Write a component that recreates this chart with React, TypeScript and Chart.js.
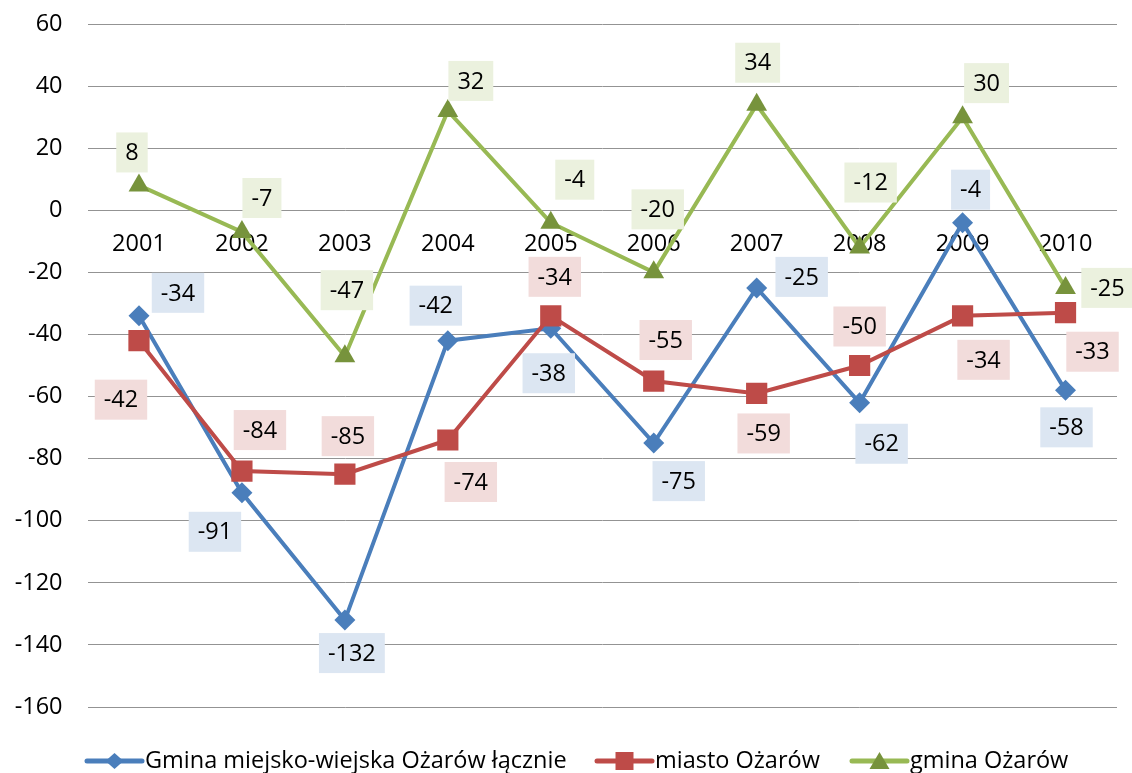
import React, { useEffect, useRef } from "react";
import { Chart, registerables } from "chart.js";

Chart.register(...registerables);

const years = ["2001", "2002", "2003", "2004", "2005", "2006", "2007", "2008", "2009", "2010"];
const seriesNames = ["Gmina miejsko-wiejska Ożarów łącznie", "miasto Ożarów", "gmina Ożarów"];
const totalValues = [-34, -91, -132, -42, -38, -75, -25, -62, -4, -58];
const townValues = [-42, -84, -85, -74, -34, -55, -59, -50, -34, -33];
const ruralValues = [8, -7, -47, 32, -4, -20, 34, -12, 30, -25];
const yTicks = { min: -160, max: 60, step: 20 };

// label box offsets from each point (styling)
const totalLabelOffsets = [[39, -23], [-27, 39], [7, 33], [-12, -35], [-2, 45], [25, 38], [45, -11], [22, 41], [8, -33], [1, 37]];
const townLabelOffsets = [[-18, 59], [18, -41], [3, -38], [23, 42], [4, -39], [12, -41], [7, 40], [0, -39], [21, 44], [27, 39]];
const ruralLabelOffsets = [[-7, -33], [20, -34], [2, -66], [23, -30], [24, -43], [4, -63], [1, -42], [11, -65], [24, -34], [42, 0]];

const FONT = "'Open Sans', sans-serif";
const FONT_SIZE = 23.5;

const styles = [
  { line: "#4A7EBB", marker: "#4A7EBB", labelBg: "#DCE6F2", pointStyle: "rectRot", radius: 10.5, offsets: totalLabelOffsets },
  { line: "#BE4B48", marker: "#BE4B48", labelBg: "#F2DCDB", pointStyle: "rect", radius: 15, offsets: townLabelOffsets },
  { line: "#98B954", marker: "#77933C", labelBg: "#EBF1DE", pointStyle: "triangle", radius: 12, offsets: ruralLabelOffsets },
];

const legendLineStarts = [87, 597, 852];

const labelPlugin = {
  id: "valueLabels",
  afterDatasetsDraw(chart: any) {
    const ctx = chart.ctx;
    ctx.save();
    ctx.font = `${FONT_SIZE}px ${FONT}`;
    ctx.textAlign = "center";
    ctx.textBaseline = "middle";
    chart.data.datasets.forEach((ds: any, di: number) => {
      const meta = chart.getDatasetMeta(di);
      const st = styles[di];
      meta.data.forEach((el: any, i: number) => {
        const txt = String(ds.data[i]);
        const [dx, dy] = st.offsets[i];
        const cx = el.x + dx;
        const cy = el.y + dy;
        const w = ctx.measureText(txt).width + 18;
        const h = 40;
        ctx.fillStyle = st.labelBg;
        ctx.fillRect(cx - w / 2, cy - h / 2, w, h);
        ctx.fillStyle = "#000";
        ctx.fillText(txt, cx, cy + 1);
      });
    });
    ctx.restore();
  },
  afterDraw(chart: any) {
    const ctx = chart.ctx;
    ctx.save();
    const y = 761;
    ctx.font = `${FONT_SIZE}px ${FONT}`;
    ctx.textBaseline = "middle";
    ctx.textAlign = "left";
    chart.data.datasets.forEach((ds: any, di: number) => {
      const st = styles[di];
      const x0 = legendLineStarts[di];
      const x1 = x0 + 55;
      ctx.strokeStyle = st.line;
      ctx.lineWidth = 5;
      ctx.lineCap = "round";
      ctx.beginPath();
      ctx.moveTo(x0, y);
      ctx.lineTo(x1, y);
      ctx.stroke();
      const cx = (x0 + x1) / 2;
      ctx.fillStyle = st.marker;
      ctx.beginPath();
      if (st.pointStyle === "rectRot") {
        ctx.moveTo(cx, y - 8);
        ctx.lineTo(cx + 9, y);
        ctx.lineTo(cx, y + 8);
        ctx.lineTo(cx - 9, y);
      } else if (st.pointStyle === "rect") {
        ctx.rect(cx - 9, y - 9, 18, 18);
      } else {
        ctx.moveTo(cx, y - 9);
        ctx.lineTo(cx + 10, y + 8);
        ctx.lineTo(cx - 10, y + 8);
      }
      ctx.closePath();
      ctx.fill();
      ctx.fillStyle = "#000";
      ctx.fillText(ds.label, x1 + 3, y);
    });
    ctx.restore();
  },
};

export default function App() {
  const ref = useRef<HTMLCanvasElement>(null);
  useEffect(() => {
    document.body.style.margin = "0";
    const allValues = [totalValues, townValues, ruralValues];
    const chart = new Chart(ref.current!, {
      type: "line",
      data: {
        labels: years,
        datasets: allValues.map((vals, i) => ({
          label: seriesNames[i],
          data: vals,
          borderColor: styles[i].line,
          backgroundColor: styles[i].marker,
          borderWidth: 4,
          pointStyle: styles[i].pointStyle as any,
          pointRadius: styles[i].radius,
          pointBackgroundColor: styles[i].marker,
          pointBorderColor: styles[i].marker,
          pointBorderWidth: 0,
          tension: 0,
          fill: false,
          order: 2 - i,
        })),
      },
      options: {
        responsive: false,
        animation: false,
        layout: { padding: { left: 0, top: 24, right: 12, bottom: 66 } },
        plugins: { legend: { display: false }, tooltip: { enabled: false } },
        scales: {
          x: {
            type: "category",
            position: { y: 0 } as any,
            offset: true,
            grid: { display: false, drawTicks: false },
            border: { display: false },
            ticks: { color: "#000", font: { family: FONT, size: FONT_SIZE }, padding: 20, maxRotation: 0, autoSkip: false },
          },
          y: {
            min: yTicks.min,
            max: yTicks.max,
            afterFit: (s: any) => { s.width = 87.5; s.paddingTop = 0; s.paddingBottom = 0; },
            grid: { color: "#939393", lineWidth: 1, drawTicks: false },
            border: { display: false },
            ticks: { stepSize: yTicks.step, color: "#000", font: { family: FONT, size: FONT_SIZE }, padding: 25 },
          },
        },
      },
      plugins: [labelPlugin],
    });
    return () => chart.destroy();
  }, []);
  return (
    <div style={{ width: 1132, height: 773, background: "#fff" }}>
      <canvas ref={ref} width={1132} height={773} />
    </div>
  );
}
